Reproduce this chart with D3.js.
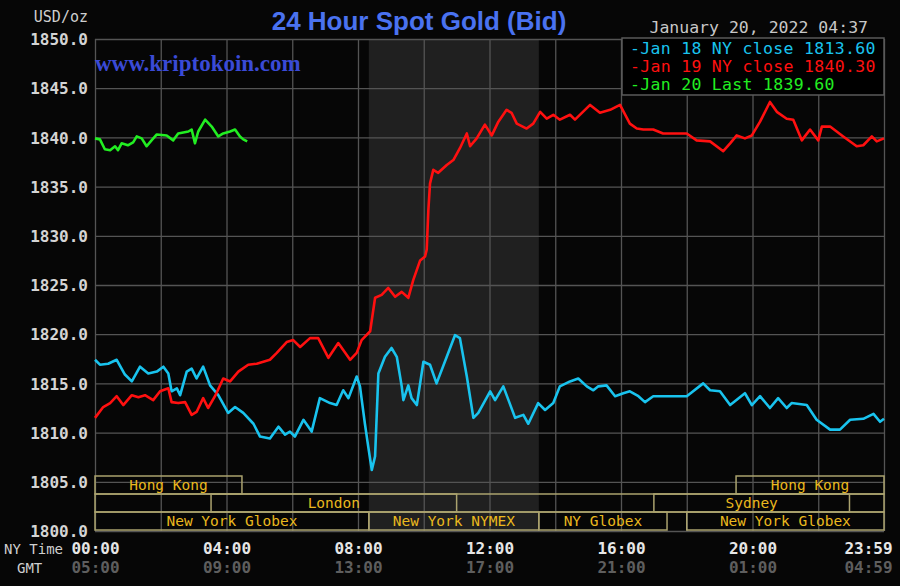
<!DOCTYPE html>
<html>
<head>
<meta charset="utf-8">
<script src="https://cdn.jsdelivr.net/npm/d3@7"></script>
<style>
  html, body { margin: 0; padding: 0; background: #060606; }
  svg { display: block; }
</style>
</head>
<body>
<svg id="chart"></svg>
<script>
// hours after NY midnight
const jan18Hours = [0, 0.15, 0.40, 0.66, 0.91, 1.12, 1.37, 1.62, 1.88, 2.08, 2.23, 2.33, 2.49, 2.59, 2.79, 2.94, 3.09, 3.29, 3.50, 3.75,
  4.05, 4.26, 4.51, 4.82, 5.02, 5.32, 5.58, 5.78, 5.93, 6.08, 6.34, 6.59, 6.84, 7.15, 7.35, 7.55, 7.71, 7.96, 8.06, 8.21,
  8.31, 8.42, 8.52, 8.62, 8.82, 9.02, 9.18, 9.33, 9.38, 9.53, 9.63, 9.79, 9.99, 10.19, 10.39, 10.70, 10.95, 11.10, 11.31, 11.51,
  11.66, 12.02, 12.17, 12.42, 12.78, 13.03, 13.18, 13.48, 13.69, 13.94, 14.14, 14.45, 14.70, 14.96, 15.16, 15.31, 15.56, 15.82, 16.07, 16.27,
  16.53, 16.73, 16.98, 18.00, 18.50, 18.71, 19.01, 19.32, 19.77, 19.98, 20.23, 20.53, 20.78, 21.04, 21.19, 21.65, 21.95, 22.36, 22.66, 22.97,
  23.37, 23.68, 23.88, 24.0];
const jan18Values = [1817.4, 1816.9, 1817.0, 1817.4, 1815.9, 1815.2, 1816.7, 1816.0, 1816.2, 1816.7, 1816.0, 1814.2, 1814.5, 1813.8, 1816.2, 1816.5, 1815.5, 1816.7, 1814.8, 1813.8,
  1812.0, 1812.6, 1812.0, 1810.9, 1809.6, 1809.4, 1810.6, 1809.8, 1810.1, 1809.6, 1811.3, 1810.1, 1813.5, 1813.0, 1812.8, 1814.3, 1813.5, 1815.7, 1814.7, 1810.9,
  1808.6, 1806.2, 1807.6, 1816.0, 1817.7, 1818.6, 1817.7, 1814.7, 1813.3, 1814.8, 1813.5, 1812.8, 1817.2, 1816.9, 1815.0, 1817.7, 1819.9, 1819.6, 1815.7, 1811.5,
  1812.0, 1814.2, 1813.3, 1814.7, 1811.5, 1811.8, 1810.9, 1813.0, 1812.3, 1813.0, 1814.7, 1815.2, 1815.5, 1814.7, 1814.3, 1814.7, 1814.8, 1813.7, 1814.0, 1814.2,
  1813.7, 1813.1, 1813.7, 1813.7, 1815.0, 1814.3, 1814.2, 1812.8, 1814.0, 1812.8, 1813.7, 1812.5, 1813.5, 1812.5, 1813.0, 1812.8, 1811.3, 1810.3, 1810.3, 1811.3,
  1811.4, 1811.9, 1811.1, 1811.4];

const jan19Hours = [0, 0.25, 0.46, 0.66, 0.86, 1.12, 1.32, 1.52, 1.77, 1.98, 2.23, 2.33, 2.53, 2.74, 2.94, 3.09, 3.29, 3.44, 3.65, 3.90,
  4.11, 4.36, 4.66, 4.92, 5.32, 5.53, 5.83, 6.03, 6.24, 6.54, 6.79, 7.10, 7.40, 7.76, 7.96, 8.11, 8.37, 8.52, 8.72, 8.92,
  9.13, 9.33, 9.53, 9.68, 9.89, 10.04, 10.09, 10.14, 10.19, 10.29, 10.44, 10.70, 10.90, 11.10, 11.31, 11.41, 11.61, 11.86, 12.07, 12.27,
  12.52, 12.67, 12.83, 13.13, 13.33, 13.54, 13.74, 13.94, 14.14, 14.45, 14.60, 15.06, 15.36, 15.67, 15.97, 16.27, 16.48, 16.68, 16.98, 17.28,
  18.00, 18.30, 18.71, 19.11, 19.32, 19.52, 19.77, 19.98, 20.23, 20.53, 20.74, 21.04, 21.24, 21.50, 21.75, 22.00, 22.11, 22.36, 22.76, 23.17,
  23.37, 23.63, 23.78, 24.0];
const jan19Values = [1811.5, 1812.6, 1813.0, 1813.7, 1812.8, 1813.8, 1813.6, 1813.8, 1813.3, 1814.2, 1814.5, 1813.1, 1813.0, 1813.1, 1811.8, 1812.1, 1813.5, 1812.5, 1813.7, 1815.5,
  1815.2, 1816.2, 1816.9, 1817.0, 1817.4, 1818.1, 1819.2, 1819.4, 1818.7, 1819.6, 1819.6, 1817.6, 1819.1, 1817.4, 1818.1, 1819.4, 1820.3, 1823.7, 1824.0, 1824.7,
  1823.8, 1824.3, 1823.7, 1825.5, 1827.5, 1827.9, 1828.6, 1832.6, 1835.3, 1836.7, 1836.4, 1837.2, 1837.7, 1838.9, 1840.4, 1839.1, 1839.9, 1841.3, 1840.2, 1841.6,
  1842.8, 1842.5, 1841.4, 1840.9, 1841.4, 1842.6, 1841.9, 1842.3, 1841.8, 1842.3, 1841.8, 1843.3, 1842.5, 1842.8, 1843.3, 1841.4, 1840.9, 1840.8, 1840.8, 1840.4,
  1840.4, 1839.7, 1839.6, 1838.6, 1839.4, 1840.2, 1839.9, 1840.2, 1841.6, 1843.6, 1842.6, 1841.9, 1841.8, 1839.7, 1840.8, 1839.7, 1841.1, 1841.1, 1840.1, 1839.1,
  1839.2, 1840.1, 1839.6, 1839.9];

const jan20Hours = [0, 0.15, 0.30, 0.46, 0.61, 0.70, 0.81, 1.00, 1.16, 1.27, 1.42, 1.57, 1.72, 1.88, 2.18, 2.38, 2.53, 2.84, 2.94, 3.04,
  3.14, 3.35, 3.55, 3.75, 3.90, 4.11, 4.26, 4.41, 4.51, 4.63];
const jan20Values = [1839.9, 1839.8, 1838.8, 1838.7, 1839.1, 1838.7, 1839.4, 1839.2, 1839.5, 1840.1, 1839.9, 1839.1, 1839.7, 1840.3, 1840.2, 1839.7, 1840.4, 1840.6, 1840.8, 1839.4,
  1840.6, 1841.8, 1841.1, 1840.1, 1840.4, 1840.6, 1840.8, 1840.1, 1839.8, 1839.6];

const legendLabels = ["-Jan 18 NY close 1813.60", "-Jan 19 NY close 1840.30", "-Jan 20 Last 1839.60"];
const seriesColors = ["#19c3ee", "#ff1010", "#22ee22"];

const priceTicks = [1800, 1805, 1810, 1815, 1820, 1825, 1830, 1835, 1840, 1845, 1850];
const hourTicks = [0, 4, 8, 12, 16, 20, 24];
const nyTimeLabels = ["00:00", "04:00", "08:00", "12:00", "16:00", "20:00", "23:59"];
const gmtLabels = ["05:00", "09:00", "13:00", "17:00", "21:00", "01:00", "04:59"];

// trading sessions: [row, start hour, end hour, label]
const sessions = [
  [0, 0, 4.47, "Hong Kong"],
  [0, 19.5, 24, "Hong Kong"],
  [1, 3.53, 11.0, "London"],
  [1, 17.0, 22.95, "Sydney"],
  [2, 0, 8.33, "New York Globex"],
  [2, 8.33, 13.5, "New York NYMEX"],
  [2, 13.5, 17.4, "NY Globex"],
  [2, 18.0, 24, "New York Globex"]
];
const pitHours = [8.33, 13.5];

const width = 900, height = 586;
const margin = {top: 39, right: 16, bottom: 55, left: 95};

const svg = d3.select("#chart").attr("width", width).attr("height", height);

const x = d3.scaleLinear().domain([0, 24]).range([margin.left, width - margin.right]);
const y = d3.scaleLinear().domain([1800, 1850]).range([height - margin.bottom, margin.top]);

const mono = "'DejaVu Sans Mono', monospace";

// shaded pit session
svg.append("rect")
  .attr("x", x(pitHours[0])).attr("y", y(1850))
  .attr("width", x(pitHours[1]) - x(pitHours[0]))
  .attr("height", y(1800) - y(1850))
  .attr("fill", "#202020");

// grid
const gridColor = "#545454";
svg.append("g")
  .attr("transform", `translate(${margin.left},0)`)
  .call(d3.axisLeft(y).tickValues(priceTicks).tickSize(-(x(24) - x(0))).tickFormat(""))
  .call(g => g.select(".domain").remove())
  .call(g => g.selectAll("line").attr("stroke", gridColor).attr("stroke-width", 1.3));

svg.append("g")
  .attr("transform", `translate(0,${y(1800)})`)
  .call(d3.axisBottom(x).tickValues(d3.range(0, 25, 2)).tickSize(-(y(1800) - y(1850))).tickFormat(""))
  .call(g => g.select(".domain").remove())
  .call(g => g.selectAll("line").attr("stroke", gridColor).attr("stroke-width", 1.3));

// session boxes
const rowTop = [476, 494, 512];
const rowH = 18;
const boxColor = "#aaa26e";
svg.append("rect")
  .attr("x", x(0)).attr("y", rowTop[1])
  .attr("width", x(24) - x(0)).attr("height", rowH)
  .attr("fill", "none").attr("stroke", boxColor).attr("stroke-width", 1.5);

const sess = svg.append("g");
sess.selectAll("rect").data(sessions).join("rect")
  .attr("x", d => x(d[1])).attr("y", d => rowTop[d[0]])
  .attr("width", d => x(d[2]) - x(d[1])).attr("height", rowH)
  .attr("fill", "none").attr("stroke", boxColor).attr("stroke-width", 1.5);
sess.selectAll("text").data(sessions).join("text")
  .attr("x", d => (x(d[1]) + x(d[2])) / 2)
  .attr("y", d => rowTop[d[0]] + 14)
  .attr("text-anchor", "middle")
  .attr("fill", "#eab81e")
  .style("font-family", mono).style("font-size", "14.5px")
  .text(d => d[3]);

// price lines
const line = d3.line().x(d => x(d[0])).y(d => y(d[1]));
const series = [
  d3.zip(jan18Hours, jan18Values),
  d3.zip(jan19Hours, jan19Values),
  d3.zip(jan20Hours, jan20Values)
];
svg.append("g").selectAll("path").data(series).join("path")
  .attr("d", line)
  .attr("fill", "none")
  .attr("stroke", (d, i) => seriesColors[i])
  .attr("stroke-width", 2.6)
  .attr("stroke-linejoin", "round");

// y axis labels
svg.append("g")
  .attr("transform", `translate(${margin.left},0)`)
  .call(d3.axisLeft(y).tickValues(priceTicks).tickSize(0).tickPadding(7).tickFormat(d3.format(".1f")))
  .call(g => g.select(".domain").remove())
  .call(g => g.selectAll("text")
    .attr("fill", "#d4d4d4").attr("dy", "0.35em")
    .style("font-family", mono).style("font-size", "16px").style("font-weight", "bold"));

svg.append("text")
  .attr("x", 88).attr("y", 22).attr("text-anchor", "end")
  .attr("fill", "#cfcfcf")
  .style("font-family", mono).style("font-size", "15px")
  .text("USD/oz");

// x axis labels
const xAxisRow = (labels, yPos, color) => {
  svg.append("g")
    .attr("transform", `translate(0,${yPos})`)
    .call(d3.axisBottom(x).tickValues(hourTicks).tickSize(0).tickPadding(0).tickFormat((d, i) => labels[i]))
    .call(g => g.select(".domain").remove())
    .call(g => g.selectAll("text")
      .attr("fill", color).attr("y", 0).attr("dy", 0)
      .attr("dx", (d, i) => i === labels.length - 1 ? -16 : 0)
      .style("font-family", mono).style("font-size", "16px").style("font-weight", "bold"));
};
xAxisRow(nyTimeLabels, 554, "#e6e6e6");
xAxisRow(gmtLabels, 573, "#5e5e5e");

svg.append("text").attr("x", 4).attr("y", 554).attr("fill", "#cfcfcf")
  .style("font-family", mono).style("font-size", "14px").text("NY Time");
svg.append("text").attr("x", 17).attr("y", 573).attr("fill", "#cfcfcf")
  .style("font-family", mono).style("font-size", "14px").text("GMT");

// title, watermark, date
svg.append("text")
  .attr("x", 419).attr("y", 30).attr("text-anchor", "middle")
  .attr("fill", "#4a72f0")
  .style("font-family", "'Liberation Sans', Arial, sans-serif").style("font-size", "26px").style("font-weight", "bold")
  .text("24 Hour Spot Gold (Bid)");

svg.append("text")
  .attr("x", 95).attr("y", 71)
  .attr("fill", "#3a4ad6")
  .style("font-family", "'Liberation Serif', 'Times New Roman', serif").style("font-size", "23px").style("font-weight", "bold")
  .text("www.kriptokoin.com");

svg.append("text")
  .attr("x", 868).attr("y", 33).attr("text-anchor", "end")
  .attr("fill", "#c8c8c8")
  .style("font-family", mono).style("font-size", "16.5px")
  .text("January 20, 2022 04:37");

// legend
svg.append("rect")
  .attr("x", 622).attr("y", 38).attr("width", x(24) - 622).attr("height", 57)
  .attr("fill", "#000").attr("stroke", "#5a5a5a").attr("stroke-width", 1.5);
svg.append("g").selectAll("text").data(legendLabels).join("text")
  .attr("x", 630).attr("y", (d, i) => 54 + i * 18)
  .attr("fill", (d, i) => seriesColors[i])
  .style("font-family", mono).style("font-size", "16.5px").style("letter-spacing", "0.3px")
  .text(d => d);
</script>
</body>
</html>
